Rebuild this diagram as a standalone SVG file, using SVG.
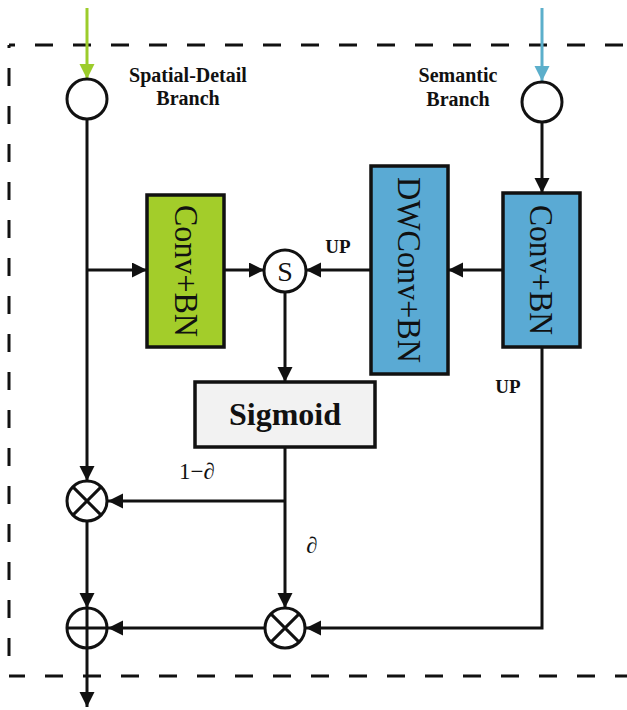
<svg xmlns="http://www.w3.org/2000/svg" width="627" height="710" viewBox="0 0 627 710">
<style>
.ln{fill:none;stroke:#111;stroke-width:3}
.dash{fill:none;stroke:#111;stroke-width:3;stroke-dasharray:18 20}
.op{fill:#fff;stroke:#111;stroke-width:3}
.box{stroke:#111;stroke-width:3.5}
.lbl{font-family:"Liberation Serif","Times New Roman",serif;font-weight:bold;fill:#111}
.rt{font-family:"Liberation Serif","Times New Roman",serif;fill:#111;font-size:34px}
.mt{font-family:"Liberation Serif","Times New Roman",serif;fill:#111}
</style>
<defs>
<marker id="ah" markerUnits="userSpaceOnUse" markerWidth="16" markerHeight="16" refX="15" refY="7.5" orient="auto"><path d="M0,0 L15,7.5 L0,15 z" fill="#111"/></marker>
<marker id="ahg" markerUnits="userSpaceOnUse" markerWidth="16" markerHeight="16" refX="15" refY="7.5" orient="auto"><path d="M0,0 L15,7.5 L0,15 z" fill="#9ccc2b"/></marker>
<marker id="ahb" markerUnits="userSpaceOnUse" markerWidth="16" markerHeight="16" refX="15" refY="7.5" orient="auto"><path d="M0,0 L15,7.5 L0,15 z" fill="#5cafcb"/></marker>
</defs>
<rect width="627" height="710" fill="#fff"/>
<g id="frame">
<path class="dash" d="M9,45 H627" stroke-dashoffset="12"/>
<path class="dash" d="M9,45 V660" stroke-dashoffset="15"/>
<path class="dash" d="M9,676 H627" stroke-dashoffset="2"/>
</g>
<g id="connectors">
<path d="M87,8 V79" fill="none" stroke="#9ccc2b" stroke-width="3" marker-end="url(#ahg)"/>
<path d="M542,8 V81" fill="none" stroke="#5cafcb" stroke-width="3" marker-end="url(#ahb)"/>
<path class="ln" d="M87,119 V481" marker-end="url(#ah)"/>
<path class="ln" d="M87,270 H147" marker-end="url(#ah)"/>
<path class="ln" d="M224,270 H264" marker-end="url(#ah)"/>
<path class="ln" d="M371,270 H306" marker-end="url(#ah)"/>
<path class="ln" d="M542,122 V193" marker-end="url(#ah)"/>
<path class="ln" d="M503,270 H448" marker-end="url(#ah)"/>
<path class="ln" d="M285,292 V382" marker-end="url(#ah)"/>
<path class="ln" d="M285,447 V608" marker-end="url(#ah)"/>
<path class="ln" d="M285,501 H108" marker-end="url(#ah)"/>
<path class="ln" d="M542,347 V628 H306" marker-end="url(#ah)"/>
<path class="ln" d="M264,628 H108" marker-end="url(#ah)"/>
<path class="ln" d="M87,522 V608" marker-end="url(#ah)"/>
<path class="ln" d="M87,648 V707" marker-end="url(#ah)"/>
</g>
<g id="in-spatial"><circle class="op" cx="87" cy="99" r="20"/></g>
<g id="in-semantic"><circle class="op" cx="542" cy="102" r="20"/></g>
<g id="label-spatial">
<text class="lbl" font-size="20" x="188" y="82" text-anchor="middle">Spatial-Detail</text>
<text class="lbl" font-size="20" x="188" y="105" text-anchor="middle">Branch</text>
</g>
<g id="label-semantic">
<text class="lbl" font-size="20" x="458" y="82" text-anchor="middle">Semantic</text>
<text class="lbl" font-size="20" x="458" y="106" text-anchor="middle">Branch</text>
</g>
<g id="conv-green">
<rect class="box" x="147" y="195" width="77" height="152" fill="#a3cd2a"/>
<text class="rt" transform="translate(175,271) rotate(90)" text-anchor="middle" textLength="132" lengthAdjust="spacingAndGlyphs">Conv+BN</text>
</g>
<g id="dwconv">
<rect class="box" x="371" y="166" width="77" height="208" fill="#5aaad4"/>
<text class="rt" transform="translate(398,270) rotate(90)" text-anchor="middle" textLength="186" lengthAdjust="spacingAndGlyphs">DWConv+BN</text>
</g>
<g id="conv-blue">
<rect class="box" x="503" y="193" width="77" height="154" fill="#5aaad4"/>
<text class="rt" transform="translate(530,270) rotate(90)" text-anchor="middle" textLength="130" lengthAdjust="spacingAndGlyphs">Conv+BN</text>
</g>
<g id="s-node">
<circle class="op" cx="285" cy="271" r="21"/>
<text class="mt" font-size="28" x="285" y="280.5" text-anchor="middle">S</text>
</g>
<g id="up1"><text class="lbl" font-size="19" x="338" y="253" text-anchor="middle">UP</text></g>
<g id="up2"><text class="lbl" font-size="19" x="508" y="393" text-anchor="middle">UP</text></g>
<g id="sigmoid">
<rect class="box" x="195" y="382" width="180" height="65" fill="#f2f2f2"/>
<text class="lbl" font-size="32" x="285" y="425" text-anchor="middle">Sigmoid</text>
</g>
<g id="mul1">
<circle class="op" cx="87" cy="501" r="20"/>
<path class="ln" d="M72.9,486.9 L101.1,515.1 M101.1,486.9 L72.9,515.1"/>
</g>
<g id="mul2">
<circle class="op" cx="285" cy="628" r="20"/>
<path class="ln" d="M270.9,613.9 L299.1,642.1 M299.1,613.9 L270.9,642.1"/>
</g>
<g id="add">
<circle class="op" cx="87" cy="628" r="20"/>
<path class="ln" d="M67,628 H107 M87,608 V648"/>
</g>
<g id="lbl-1ma"><text class="mt" font-size="23" x="197" y="479" text-anchor="middle">1−∂</text></g>
<g id="lbl-a"><text class="mt" font-size="23" x="312" y="553" text-anchor="middle">∂</text></g>
</svg>
